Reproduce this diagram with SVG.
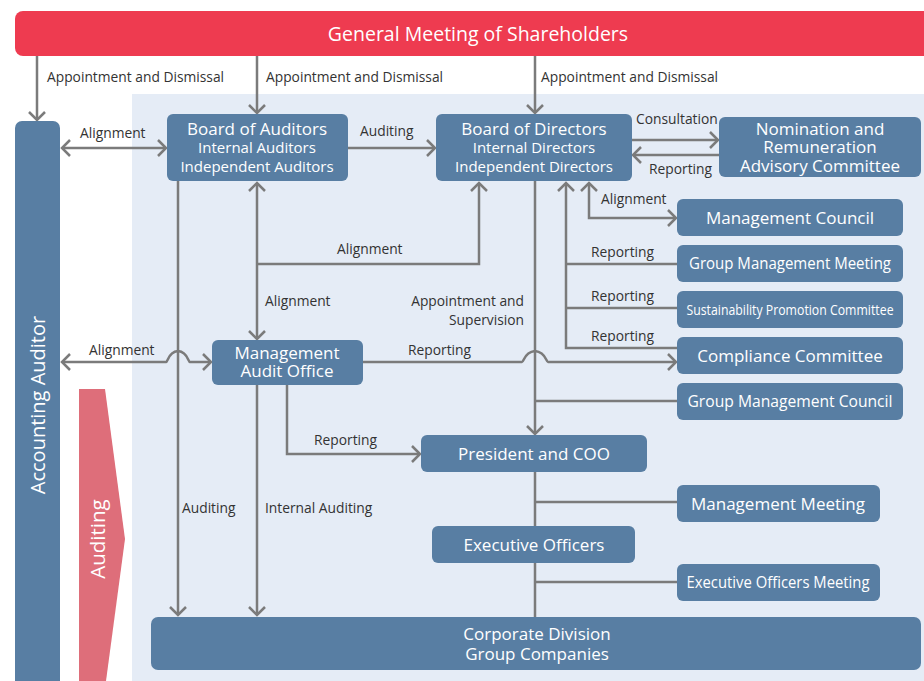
<svg xmlns="http://www.w3.org/2000/svg" width="924" height="681" viewBox="0 0 924 681">
<style>
.box{fill:#587ea3}
.t{font-family:"Open Sans","Noto Sans",sans-serif;fill:#fff;text-anchor:middle}
.h{font-size:17px}
.s{font-size:15px}
.lbl{font-family:"Open Sans","Noto Sans",sans-serif;font-size:13.8px;fill:#333}
.ln{fill:none;stroke:#7b7b7b;stroke-width:2.5}
.ar{marker-end:url(#a)}
.ar2{marker-start:url(#a);marker-end:url(#a)}
</style>
<defs>
<marker id="a" viewBox="0 0 12 20" refX="10" refY="10" markerWidth="12" markerHeight="20" markerUnits="userSpaceOnUse" orient="auto-start-reverse">
<path d="M2,2 L10,10 L2,18" fill="none" stroke="#7b7b7b" stroke-width="2.5"/>
</marker>
</defs>
<rect x="0" y="0" width="924" height="681" fill="#fff"/>
<rect x="132" y="94" width="792" height="587" fill="#e5ecf6"/>

<g id="connectors">
<path class="ln ar" d="M37,56 V120"/>
<path class="ln ar" d="M257,56 V113"/>
<path class="ln ar" d="M535,56 V113"/>
<path class="ln ar2" d="M62,148 H166"/>
<path class="ln ar" d="M348,148 H435"/>
<path class="ln ar" d="M632,140 H718"/>
<path class="ln ar" d="M719,155 H633"/>
<path class="ln ar2" d="M257,183 V339"/>
<path class="ln ar" d="M257,264 H479 V183"/>
<path class="ln ar" d="M178,181 V615"/>
<path class="ln ar" d="M257,385 V615"/>
<path class="ln ar" d="M287,385 V454 H420"/>
<path class="ln ar2" d="M62,362 H166 C168,362 168,352 178,351 C188,352 188,362 190,362 H211"/>
<path class="ln ar" d="M363,362 H522 C524,362 524,352 535,351 C546,352 546,362 548,362 H676"/>
<path class="ln ar" d="M535,181 V434"/>
<path class="ln" d="M535,401 H677"/>
<path class="ln" d="M535,472 V617"/>
<path class="ln" d="M535,502 H677"/>
<path class="ln" d="M535,582 H677"/>
<path class="ln ar" d="M677,348 H566 V183"/>
<path class="ln" d="M566,264 H677"/>
<path class="ln" d="M566,308 H677"/>
<path class="ln ar2" d="M589,183 V218 H676"/>
</g>

<g id="shareholders">
<rect x="15" y="11" width="920" height="45" rx="8" fill="#ee3b50"/>
<text class="t" x="478" y="41" font-size="19.5">General Meeting of Shareholders</text>
</g>

<g id="accounting-auditor">
<rect x="15" y="121" width="45" height="575" rx="7" class="box"/>
<text class="t" font-size="20" transform="translate(45,405) rotate(-90)">Accounting Auditor</text>
</g>

<g id="auditing-arrow">
<polygon points="79,389 105,389 125,539 106,681 79,681" fill="#de6e7a"/>
<text class="t" font-size="20.5" transform="translate(105,539) rotate(-90)">Auditing</text>
</g>

<g id="board-of-auditors">
<rect x="167" y="114" width="181" height="67" rx="6" class="box"/>
<text class="t h" x="257" y="135">Board of Auditors</text>
<text class="t s" x="257" y="153">Internal Auditors</text>
<text class="t s" x="257" y="172">Independent Auditors</text>
</g>

<g id="board-of-directors">
<rect x="436" y="114" width="196" height="67" rx="6" class="box"/>
<text class="t h" x="534" y="135">Board of Directors</text>
<text class="t s" x="534" y="153">Internal Directors</text>
<text class="t s" x="534" y="172">Independent Directors</text>
</g>

<g id="nomination">
<rect x="719" y="117" width="202" height="60" rx="6" class="box"/>
<text class="t h" x="820" y="135">Nomination and</text>
<text class="t h" x="820" y="153">Remuneration</text>
<text class="t h" x="820" y="172">Advisory Committee</text>
</g>

<g id="management-council">
<rect x="677" y="199" width="226" height="37" rx="6" class="box"/>
<text class="t h" x="790" y="224">Management Council</text>
</g>

<g id="group-management-meeting">
<rect x="677" y="245" width="226" height="37" rx="6" class="box"/>
<text class="t" font-size="16" x="790" y="269" textLength="202" lengthAdjust="spacingAndGlyphs">Group Management Meeting</text>
</g>

<g id="sustainability">
<rect x="677" y="291" width="226" height="37" rx="6" class="box"/>
<text class="t s" transform="translate(790,315) scale(0.82,1)">Sustainability Promotion Committee</text>
</g>

<g id="compliance">
<rect x="677" y="337" width="226" height="37" rx="6" class="box"/>
<text class="t h" x="790" y="362">Compliance Committee</text>
</g>

<g id="group-management-council">
<rect x="677" y="383" width="226" height="37" rx="6" class="box"/>
<text class="t" font-size="16" x="790" y="407" textLength="205" lengthAdjust="spacingAndGlyphs">Group Management Council</text>
</g>

<g id="management-audit-office">
<rect x="212" y="340" width="151" height="45" rx="6" class="box"/>
<text class="t h" x="287" y="359">Management</text>
<text class="t h" x="287" y="377">Audit Office</text>
</g>

<g id="president">
<rect x="421" y="435" width="226" height="37" rx="6" class="box"/>
<text class="t h" x="534" y="460">President and COO</text>
</g>

<g id="management-meeting">
<rect x="677" y="485" width="203" height="37" rx="6" class="box"/>
<text class="t h" x="778" y="510">Management Meeting</text>
</g>

<g id="executive-officers">
<rect x="432" y="526" width="203" height="37" rx="6" class="box"/>
<text class="t h" x="534" y="551">Executive Officers</text>
</g>

<g id="executive-officers-meeting">
<rect x="677" y="564" width="203" height="37" rx="6" class="box"/>
<text class="t" font-size="16" x="778" y="588" textLength="183" lengthAdjust="spacingAndGlyphs">Executive Officers Meeting</text>
</g>

<g id="corporate-division">
<rect x="151" y="617" width="770" height="53" rx="7" class="box"/>
<text class="t h" x="537" y="640">Corporate Division</text>
<text class="t h" x="537" y="660">Group Companies</text>
</g>

<g id="labels">
<text class="lbl" x="47" y="82">Appointment and Dismissal</text>
<text class="lbl" x="266" y="82">Appointment and Dismissal</text>
<text class="lbl" x="541" y="82">Appointment and Dismissal</text>
<text class="lbl" x="80" y="138">Alignment</text>
<text class="lbl" x="360" y="136">Auditing</text>
<text class="lbl" x="636" y="124">Consultation</text>
<text class="lbl" x="649" y="174">Reporting</text>
<text class="lbl" x="601" y="204">Alignment</text>
<text class="lbl" x="337" y="254">Alignment</text>
<text class="lbl" x="591" y="257">Reporting</text>
<text class="lbl" x="591" y="301">Reporting</text>
<text class="lbl" x="591" y="341">Reporting</text>
<text class="lbl" x="265" y="306">Alignment</text>
<text class="lbl" x="524" y="306" text-anchor="end">Appointment and</text>
<text class="lbl" x="524" y="325" text-anchor="end">Supervision</text>
<text class="lbl" x="89" y="355">Alignment</text>
<text class="lbl" x="408" y="355">Reporting</text>
<text class="lbl" x="314" y="445">Reporting</text>
<text class="lbl" x="182" y="513">Auditing</text>
<text class="lbl" x="265" y="513">Internal Auditing</text>
</g>
</svg>
